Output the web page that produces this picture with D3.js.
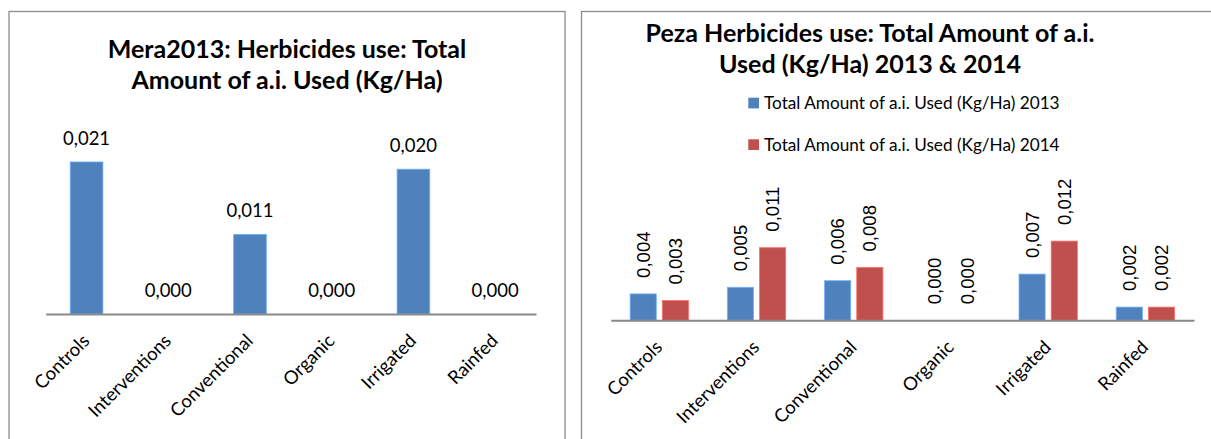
<!DOCTYPE html>
<html>
<head>
<meta charset="utf-8">
<script src="https://cdn.jsdelivr.net/npm/d3@7/dist/d3.min.js"></script>
<style>
  html, body { margin: 0; padding: 0; background: #fff; }
  svg { display: block; }
</style>
</head>
<body>
<svg id="chart" width="1211" height="439"></svg>
<script>
// Herbicide use categories and values (Kg/Ha of active ingredient)
const categories = ["Controls", "Interventions", "Conventional", "Organic", "Irrigated", "Rainfed"];
const mera2013 = [0.021, 0.000, 0.011, 0.000, 0.020, 0.000];
const peza2013 = [0.004, 0.005, 0.006, 0.000, 0.007, 0.002];
const peza2014 = [0.003, 0.011, 0.008, 0.000, 0.012, 0.002];
const pezaSeries = ["Total Amount of a.i. Used (Kg/Ha) 2013", "Total Amount of a.i. Used (Kg/Ha) 2014"];
const meraTitle = ["Mera2013: Herbicides use: Total", "Amount of a.i. Used (Kg/Ha)"];
const pezaTitle = ["Peza Herbicides use: Total Amount of a.i.", "Used (Kg/Ha) 2013 & 2014"];

const BLUE = "#4F81BD", RED = "#C0504D";
const BORDER = "#8c8c8c", AXIS = "#898989";
const LABEL_FONT = "Lato, 'Open Sans', sans-serif";

// Decimal comma formatting, e.g. 0,021
const fmt = d3.formatLocale({ decimal: ",", thousands: ".", grouping: [3], currency: ["", ""] }).format(".3f");

const svg = d3.select("#chart");
svg.append("rect").attr("width", 1211).attr("height", 439).attr("fill", "#fff");

// Chart frames
svg.append("rect").attr("x", 9).attr("y", 11.5).attr("width", 556).attr("height", 440)
  .attr("fill", "none").attr("stroke", BORDER).attr("stroke-width", 1.3);
svg.append("rect").attr("x", 581.5).attr("y", 11.5).attr("width", 640).attr("height", 440)
  .attr("fill", "none").attr("stroke", BORDER).attr("stroke-width", 1.3);

function drawTitle(lines, cx, y0) {
  const t = svg.append("text").attr("text-anchor", "middle")
    .attr("font-family", LABEL_FONT).attr("font-weight", 700).attr("font-size", 25).attr("fill", "#000");
  lines.forEach((line, i) => t.append("tspan").attr("x", cx).attr("y", y0 + i * 31).text(line));
}

function drawCategoryAxis(x, axisY) {
  const g = svg.append("g").attr("transform", `translate(0,${axisY})`)
    .call(d3.axisBottom(x).tickSize(0).tickSizeOuter(0));
  g.select(".domain").attr("stroke", AXIS).attr("stroke-width", 2);
  g.selectAll(".tick text")
    .attr("font-family", LABEL_FONT).attr("font-size", 18.5).attr("fill", "#000")
    .attr("text-anchor", "end").attr("x", 0).attr("y", 0).attr("dy", 0)
    .attr("transform", "translate(4,28) rotate(-45)");
  return g;
}

function barStroke(fill) {
  return d3.color(fill).brighter(0.9).formatHex();
}

// ---- Left chart: Mera 2013 ----
{
  const axisY = 314;
  const x = d3.scaleBand().domain(categories).range([45.7, 536]).paddingInner(0.6).paddingOuter(0.3);
  const y = d3.scaleLinear().domain([0, 0.025]).range([axisY, axisY - 0.025 * 7240]);

  drawTitle(meraTitle, 287, 58.3);

  svg.append("g").selectAll("rect").data(mera2013).join("rect")
    .attr("x", (d, i) => x(categories[i]))
    .attr("y", d => y(d))
    .attr("width", x.bandwidth())
    .attr("height", d => y(0) - y(d))
    .attr("fill", BLUE)
    .attr("stroke", barStroke(BLUE)).attr("stroke-width", 0.8);

  drawCategoryAxis(x, axisY);

  svg.append("g").selectAll("text").data(mera2013).join("text")
    .attr("x", (d, i) => x(categories[i]) + x.bandwidth() / 2)
    .attr("y", d => y(d) - 17)
    .attr("text-anchor", "middle")
    .attr("font-family", LABEL_FONT).attr("font-size", 18.5).attr("fill", "#000")
    .text(d => fmt(d));
}

// ---- Right chart: Peza 2013 & 2014 ----
{
  const axisY = 320.3;
  const x0 = d3.scaleBand().domain(categories).range([610.7, 1194]).paddingInner(0.4).paddingOuter(0.2);
  const x1 = d3.scaleBand().domain([0, 1]).range([0, x0.bandwidth()]).paddingInner(0.1875);
  const y = d3.scaleLinear().domain([0, 0.014]).range([axisY, axisY - 0.014 * 6600]);
  const colors = [BLUE, RED];
  const rows = categories.map((c, i) => ({ c, vals: [peza2013[i], peza2014[i]] }));

  drawTitle(pezaTitle, 870, 41.7);

  // Legend
  const legend = svg.append("g");
  pezaSeries.forEach((name, i) => {
    const ly = 97.7 + i * 41.6;
    legend.append("rect").attr("x", 748.3).attr("y", ly).attr("width", 10.7).attr("height", 10.7).attr("fill", colors[i]);
    legend.append("text").attr("x", 764).attr("y", ly + 11.6)
      .attr("font-family", LABEL_FONT).attr("font-size", 17.2).attr("fill", "#000").text(name);
  });

  const groups = svg.append("g").selectAll("g").data(rows).join("g")
    .attr("transform", d => `translate(${x0(d.c)},0)`);

  groups.selectAll("rect").data(d => d.vals).join("rect")
    .attr("x", (d, j) => x1(j))
    .attr("y", d => y(d))
    .attr("width", x1.bandwidth())
    .attr("height", d => y(0) - y(d))
    .attr("fill", (d, j) => colors[j])
    .attr("stroke", (d, j) => barStroke(colors[j])).attr("stroke-width", 0.8);

  drawCategoryAxis(x0, axisY);

  groups.selectAll("text").data(d => d.vals).join("text")
    .attr("transform", (d, j) => `translate(${x1(j) + x1.bandwidth() / 2},${y(d) - 16}) rotate(-90)`)
    .attr("dy", "0.35em")
    .attr("text-anchor", "start")
    .attr("font-family", "'Liberation Sans', Arial, sans-serif").attr("font-size", 18.6).attr("fill", "#000")
    .text(d => fmt(d));
}
</script>
</body>
</html>
